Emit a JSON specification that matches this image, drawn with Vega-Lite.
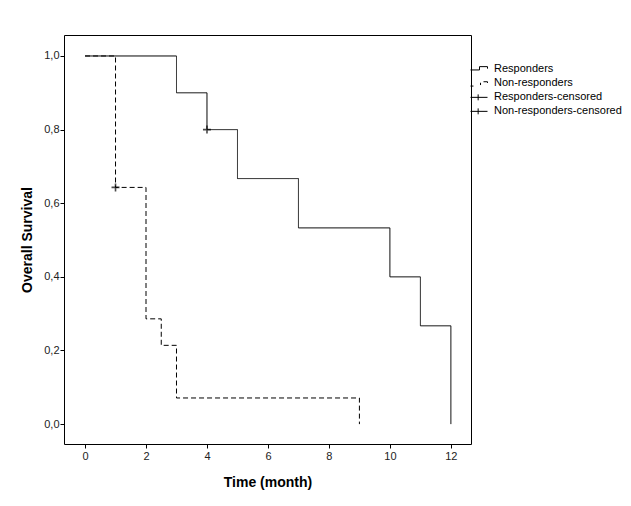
{
  "$schema": "https://vega.github.io/schema/vega-lite/v6.json",
  "width": 407,
  "height": 409,
  "autosize": "none",
  "padding": {"left": 64, "top": 35, "right": 160, "bottom": 62},
  "background": "white",
  "config": {
    "view": {"stroke": "#000", "strokeWidth": 1},
    "font": "Liberation Sans",
    "axis": {
      "grid": false,
      "domain": false,
      "tickColor": "#000",
      "tickSize": 4,
      "labelFont": "Liberation Sans",
      "labelFontSize": 11,
      "labelColor": "#222",
      "titleFont": "Liberation Sans",
      "titleFontSize": 14,
      "titleFontWeight": "bold",
      "titleColor": "#000"
    }
  },
  "datasets": {
    "curves": [
      {"series": "Responders", "t": 0, "s": 1.0},
      {"series": "Responders", "t": 3, "s": 0.9},
      {"series": "Responders", "t": 4, "s": 0.8},
      {"series": "Responders", "t": 5, "s": 0.667},
      {"series": "Responders", "t": 7, "s": 0.533},
      {"series": "Responders", "t": 10, "s": 0.4},
      {"series": "Responders", "t": 11, "s": 0.267},
      {"series": "Responders", "t": 12, "s": 0.0},
      {"series": "Non-responders", "t": 0, "s": 1.0},
      {"series": "Non-responders", "t": 1, "s": 0.643},
      {"series": "Non-responders", "t": 2, "s": 0.286},
      {"series": "Non-responders", "t": 2.5, "s": 0.214},
      {"series": "Non-responders", "t": 3, "s": 0.071},
      {"series": "Non-responders", "t": 9, "s": 0.0}
    ],
    "censored": [
      {"series": "Responders-censored", "t": 4, "s": 0.8},
      {"series": "Non-responders-censored", "t": 1, "s": 0.643}
    ]
  },
  "layer": [
    {
      "data": {"name": "curves"},
      "mark": {"type": "line", "interpolate": "step-after", "color": "#000", "strokeWidth": 1},
      "encoding": {
        "x": {
          "field": "t", "type": "quantitative",
          "scale": {"domain": [-0.69, 12.66], "nice": false, "zero": false},
          "axis": {"values": [0, 2, 4, 6, 8, 10, 12], "title": "Time (month)", "labelPadding": 2, "titlePadding": 14}
        },
        "y": {
          "field": "s", "type": "quantitative",
          "scale": {"domain": [-0.054, 1.057], "nice": false, "zero": false},
          "axis": {"values": [0, 0.2, 0.4, 0.6, 0.8, 1.0], "title": "Overall Survival", "labelPadding": 1, "titlePadding": 9,
                   "labelExpr": "replace(format(datum.value, '.1f'), '.', ',')"}
        },
        "detail": {"field": "series"},
        "strokeDash": {
          "field": "series", "type": "nominal",
          "scale": {"domain": ["Responders", "Non-responders"], "range": [[1, 0], [5, 3]]},
          "legend": null
        }
      }
    },
    {
      "data": {"name": "censored"},
      "mark": {"type": "point", "shape": "M-1,0L1,0M0,-1L0,1", "size": 64, "color": "#000", "strokeWidth": 1.6, "filled": false},
      "encoding": {
        "x": {"field": "t", "type": "quantitative"},
        "y": {"field": "s", "type": "quantitative"}
      }
    },
    {
      "data": {"name": "censored"},
      "mark": {"type": "point", "color": "#000", "filled": false, "opacity": 0},
      "encoding": {
        "x": {"field": "t", "type": "quantitative"},
        "y": {"field": "s", "type": "quantitative"},
        "shape": {
          "field": "series", "type": "nominal",
          "scale": {
            "domain": ["Responders", "Non-responders", "Responders-censored", "Non-responders-censored"],
            "range": [
              "M-1,0.07L0.06,0.07L0.06,-0.32L1,-0.32L1,-0.08",
              "M-1,0.32L-0.65,0.32M0.18,-0.07L0.18,0.2M0.53,-0.19L1,-0.19L1,-0.05",
              "M-1,0L1,0M-0.1,-0.35L-0.1,0.35",
              "M-1,0L1,0M-0.1,-0.35L-0.1,0.35"
            ]
          },
          "legend": {
            "title": null,
            "orient": "none",
            "legendX": 406,
            "legendY": 27.5,
            "padding": 0,
            "symbolSize": 289,
            "clipHeight": 13.7,
            "rowPadding": 0,
            "labelOffset": 6,
            "labelFont": "Liberation Sans",
            "labelFontSize": 11,
            "labelColor": "#000",
            "symbolStrokeWidth": 1,
            "symbolStrokeColor": "#000",
            "symbolFillColor": "transparent",
            "symbolOpacity": 1
          }
        }
      }
    }
  ]
}
